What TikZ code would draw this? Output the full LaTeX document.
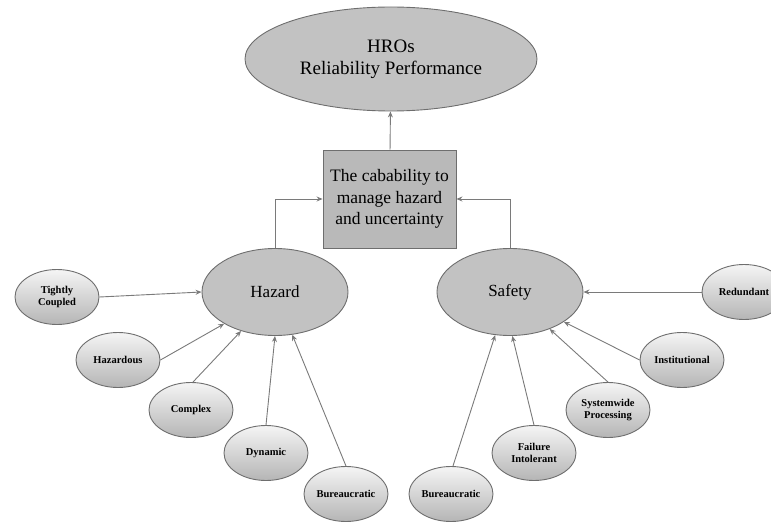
\documentclass[tikz,border=0pt]{standalone}
\usepackage{fontspec}
\setmainfont{Liberation Serif}
\usetikzlibrary{shapes.geometric,arrows.meta}
\definecolor{bigfill}{HTML}{C2C2C2}
\definecolor{boxfill}{HTML}{B9B9B9}
\definecolor{edge}{HTML}{6E6E6E}
\definecolor{arr}{HTML}{7A7A7A}
\tikzset{
  big/.style={ellipse, draw=edge, line width=0.9pt, fill=bigfill, inner sep=0pt, align=center, font=\fontsize{17}{21}\selectfont},
  small/.style={ellipse, draw=edge, line width=0.9pt, top color=gray!8, bottom color=gray!58, inner sep=0pt, minimum width=84pt, minimum height=55pt, align=center, font=\fontsize{10.5}{12}\selectfont\bfseries},
  conn/.style={draw=arr, line width=0.9pt, -{Stealth[length=6pt,width=5pt]}},
}
\begin{document}
\begin{tikzpicture}[x=1pt,y=-1pt]
\useasboundingbox (0,0) rectangle (771,524);
\clip (0,0) rectangle (771,524);
\node[big, minimum width=292pt, minimum height=104pt, font=\fontsize{19}{22}\selectfont] (hro) at (391,59) {HROs\\Reliability Performance};
\node[draw=edge, line width=0.9pt, fill=boxfill, minimum width=133pt, minimum height=98pt, align=center, inner sep=0pt, font=\fontsize{17.5}{21.5}\selectfont] (cap) at (389.5,199) {The cabability to\\manage hazard\\and uncertainty};
\node[big, minimum width=146pt, minimum height=87pt] (haz) at (275,292) {Hazard};
\node[big, minimum width=146pt, minimum height=87pt] (saf) at (510,292) {Safety};

\node[small] (tc) at (57,297) {Tightly\\Coupled};
\node[small] (hz) at (118,360) {Hazardous};
\node[small] (cx) at (191,410) {Complex};
\node[small] (dy) at (266,453) {Dynamic};
\node[small] (bl) at (346,494) {Bureaucratic};

\node[small] (rd) at (744,292) {Redundant};
\node[small] (in) at (682,360) {Institutional};
\node[small] (sw) at (608,410) {Systemwide\\Processing};
\node[small] (fi) at (534,453) {Failure\\Intolerant};
\node[small] (br) at (451,494) {Bureaucratic};

\draw[conn] (cap) -- (hro);
\draw[conn] (haz.north) |- (cap.west);
\draw[conn] (saf.north) |- (cap.east);

\draw[conn] (tc.east) -- (haz.west);
\draw[conn] (hz.east) -- (haz.212);
\draw[conn] (cx.86) -- (haz.229);
\draw[conn] (dy.north) -- (haz.south);
\draw[conn] (bl.north) -- (haz.292);

\draw[conn] (rd.west) -- (saf.east);
\draw[conn] (in.west) -- (saf.331);
\draw[conn] (sw.north) -- (saf.317);
\draw[conn] (fi.north) -- (saf.273);
\draw[conn] (br.86) -- (saf.251);
\end{tikzpicture}
\end{document}
